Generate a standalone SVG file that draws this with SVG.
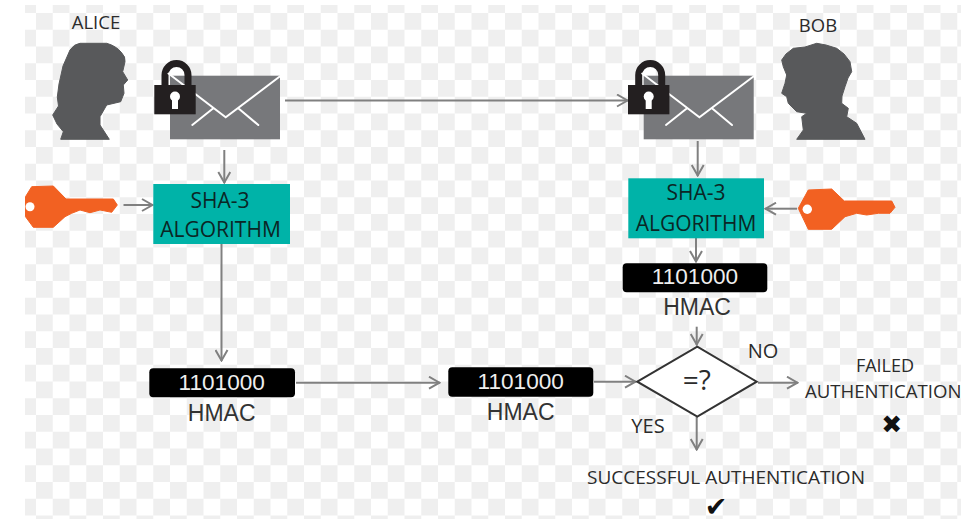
<svg xmlns="http://www.w3.org/2000/svg" width="961" height="522" viewBox="0 0 961 522">
<style>
.sil{fill:#58595b;stroke:#58595b;stroke-width:1;stroke-linejoin:round}
.key{fill:#f26122;stroke:#f26122;stroke-width:1;stroke-linejoin:round}
.hole{fill:#fff}
.env{fill:#77787b}
.flap{fill:none;stroke:#fff;stroke-width:2;stroke-linecap:round;stroke-linejoin:miter}
.shackle{fill:none;stroke:#231f20;stroke-width:7}
.lockbody{fill:#231f20}
.algo{fill:#00b3a8}
.algotext{font:21px "Open Sans",sans-serif;fill:#0b2625;text-anchor:middle}
.label{font:18.5px "Open Sans",sans-serif;fill:#2b2b2b;text-anchor:middle}
.code{fill:#000}
.codetext{font:22.6px "Liberation Sans",Arial,sans-serif;fill:#eee;text-anchor:middle}
.hmac{font:23px "Liberation Sans",Arial,sans-serif;fill:#333;text-anchor:middle}
.conn{fill:none;stroke:#808080;stroke-width:2;marker-end:url(#arrow)}
.mark{font:25px "DejaVu Sans",sans-serif;fill:#111;text-anchor:middle}
</style>
<defs>
<pattern id="checks" x="19.25" y="-3.75" width="33.5" height="33.5" patternUnits="userSpaceOnUse">
<rect width="16.75" height="16.75" fill="#efefef"/>
<rect x="16.75" y="16.75" width="16.75" height="16.75" fill="#efefef"/>
</pattern>
<marker id="arrow" viewBox="0 0 14 14" refX="13" refY="7" markerWidth="14" markerHeight="14" markerUnits="userSpaceOnUse" orient="auto">
<path d="M2,1 L12.5,7 L2,13" fill="none" stroke="#808080" stroke-width="2"/>
</marker>
<g id="envelope-art">
<rect class="env" x="170" y="75.7" width="110" height="63.6"/>
<path class="shackle" d="M165,85 V75 A11.5,11.5 0 0 1 188,75 V85"/>
<path class="flap" d="M168.5,73.5 L225.7,117.3 L281.7,75 M192.3,125 L213.3,108.3 M258.3,125 L238.3,108.3"/>
<rect class="lockbody" x="154.3" y="85" width="41.4" height="29.3"/>
<circle class="hole" cx="175" cy="96.5" r="5"/>
<rect class="hole" x="172" y="97" width="6" height="12"/>
</g>
</defs>
<rect width="961" height="522" fill="#fff"/>
<rect x="25" y="5" width="936" height="514" fill="url(#checks)"/>

<g id="connectors">
<path class="conn" d="M285,100.5 H628"/>
<path class="conn" d="M224.3,150 V183"/>
<path class="conn" d="M123.5,205 H153"/>
<path class="conn" d="M221.5,244 V361"/>
<path class="conn" d="M296,382.7 H440"/>
<path class="conn" d="M697.7,141 V176"/>
<path class="conn" d="M797,208.7 H765"/>
<path class="conn" d="M696,238 V262"/>
<path class="conn" d="M696.7,326.7 V345"/>
<path class="conn" d="M594,381.7 H636"/>
<path class="conn" d="M758,382.7 H798"/>
<path class="conn" d="M696.7,417 V450"/>
</g>

<g id="alice">
<path class="sil" d="M80,43.3 L106.7,43.3 Q116,46 121,52 Q126,57 125,61.7 L122.7,71.7 L127.7,80 L123.3,85 L124,93.3 L120.7,101.7 L106.7,105 L100,116.7 L100,125 L109.3,139.3 L60.7,139.3 L63.3,131.7 L57,124 L52.7,115 L58.5,106 L57.3,97 L59,84 L63,66 L70,50 Q74,44 80,43.3 Z"/>
<text class="label" x="96" y="29.3">ALICE</text>
</g>
<g id="bob">
<path class="sil" d="M781.7,60 L786,54 L793.3,48.3 L805,47 L816.7,43.3 L826,45 L836.7,48.3 L844,54 L850,61.7 L851.7,71.7 L848,78 L845,86.7 L842,96 L841.7,103.3 L848.3,108.3 L846.7,116.7 L856.7,123.3 L865,139.3 L796.7,139.3 L803.3,130 L801.7,116.7 L806.7,113.3 L796.7,111.7 L788.3,103.3 L786.7,96.7 L781.7,93.3 L785,83.3 L786.7,75 L783.3,66.7 Z"/>
<text class="label" x="818" y="31.7">BOB</text>
</g>
<g id="alice-message"><use href="#envelope-art"/></g>
<g id="bob-message"><use href="#envelope-art" x="473.7"/></g>
<g id="alice-key">
<path class="key" d="M25.5,196.7 L31.7,186.7 L53.3,186 L66,199 L113.3,199 L117.3,205 L111.7,212.3 L100,210 L90,212.7 L80,210 L71.7,213.3 L65,216.7 L53.3,227.3 L33.3,227.3 L25.5,216.7 Z"/>
<circle class="hole" cx="30" cy="206.7" r="4.5"/>
</g>
<g id="bob-key">
<path class="key" d="M798.3,208.3 L808.3,190 L831.7,189 L844.3,201 L891.7,201 L895,207.3 L890,213.3 L878.3,213.3 L866.7,215 L856.7,213.3 L845,216.7 L831.7,229.3 L808.3,229.3 Z"/>
<circle class="hole" cx="807.3" cy="209.3" r="4.7"/>
</g>
<g id="alice-sha3">
<rect class="algo" x="153.3" y="184" width="136.7" height="60"/>
<text class="algotext" x="220" y="208">SHA-3</text>
<text class="algotext" x="220.5" y="237.3">ALGORITHM</text>
</g>
<g id="bob-sha3">
<rect class="algo" x="628.3" y="178.3" width="135.7" height="60"/>
<text class="algotext" x="696" y="200">SHA-3</text>
<text class="algotext" x="696" y="230.7">ALGORITHM</text>
</g>
<g id="alice-hmac">
<rect class="code" x="149.3" y="368.3" width="145.7" height="29" rx="4"/>
<text class="codetext" x="221.7" y="390">1101000</text>
<text class="hmac" x="221.7" y="421">HMAC</text>
</g>
<g id="received-hmac">
<rect class="code" x="448.3" y="367.3" width="145" height="29.4" rx="4"/>
<text class="codetext" x="520.7" y="389">1101000</text>
<text class="hmac" x="520.7" y="420">HMAC</text>
</g>
<g id="bob-hmac">
<rect class="code" x="622.7" y="263.3" width="144.6" height="29" rx="4"/>
<text class="codetext" x="695" y="284">1101000</text>
<text class="hmac" x="697" y="315">HMAC</text>
</g>
<g id="compare">
<path d="M637.3,381.7 L697.3,346.7 L756.7,381.7 L697.3,416.7 Z" fill="#fff" stroke="#333" stroke-width="2"/>
<text class="label" x="696.7" y="390" style="font-size:28px">=?</text>
</g>
<g id="no-label"><text class="label" x="763" y="357.7" style="font-size:20px">NO</text></g>
<g id="yes-label"><text class="label" x="648" y="432.7" style="font-size:20px">YES</text></g>
<g id="failed">
<text class="label" x="885" y="372.3" style="font-size:18px">FAILED</text>
<text class="label" x="805" y="398" style="text-anchor:start;font-size:18.6px">AUTHENTICATION</text>
<text class="mark" x="891.7" y="433">✖</text>
</g>
<g id="success">
<text class="label" x="726" y="484" style="font-size:19px">SUCCESSFUL AUTHENTICATION</text>
<text class="mark" x="716" y="516" style="font-size:27px">✔</text>
</g>
</svg>
